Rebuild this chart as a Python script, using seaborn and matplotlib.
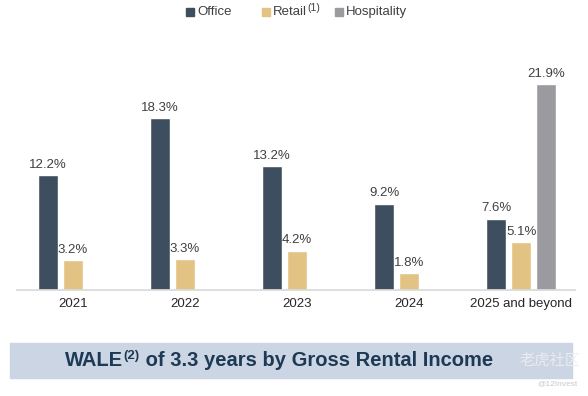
import matplotlib
matplotlib.use("Agg")
import matplotlib.pyplot as plt
import seaborn as sns
import pandas as pd
import numpy as np
from matplotlib.patches import Rectangle

categories = ["2021", "2022", "2023", "2024", "2025 and beyond"]
office = [12.2, 18.3, 13.2, 9.2, 7.6]
retail = [3.2, 3.3, 4.2, 1.8, 5.1]
hospitality = [np.nan, np.nan, np.nan, np.nan, 21.9]
series_names = ["Office", "Retail", "Hospitality"]
legend_sup = ["", "(1)", ""]
colors = ["#3d4f5e", "#e2c383", "#9b9a9f"]

rows = []
for s, vals in zip(series_names, [office, retail, hospitality]):
    for c, v in zip(categories, vals):
        rows.append({"cat": c, "series": s, "value": v})
df = pd.DataFrame(rows)

sns.set_theme(style="white")
plt.rcParams["font.family"] = ["Liberation Sans", "DejaVu Sans"]

W, H = 588, 396
fig = plt.figure(figsize=(W/100, H/100), dpi=100)
ax = fig.add_axes([17/W, (H-290)/H, (575-17)/W, 250/H])
sns.barplot(data=df, x="cat", y="value", hue="series", order=categories,
            hue_order=series_names, palette=colors, width=0.67, gap=0.2,
            saturation=1, ax=ax, legend=False)
ax.set_xlim(-0.5, 4.48)
ax.set_ylim(0, 26.6)
for sp in ["top", "right", "left"]:
    ax.spines[sp].set_visible(False)
ax.spines["bottom"].set_color("#d9d9d9")
ax.set_yticks([])
ax.set_xlabel("")
ax.set_ylabel("")
ax.tick_params(axis="x", length=0, labelsize=9.5, colors="#262626", pad=6)

for cont in ax.containers:
    labels = ["" if np.isnan(v) else f"{v:.1f}%" for v in cont.datavalues]
    ax.bar_label(cont, labels=labels, padding=3, fontsize=9.5, color="#404040")

fig.canvas.draw()
renderer = fig.canvas.get_renderer()

# Manual legend
legend_x = [186, 262, 335]
ly = 12
for c, name, sup, lx in zip(colors, series_names, legend_sup, legend_x):
    fig.patches.append(Rectangle((lx/W, (H-ly-4)/H), 8/W, 8/H,
                                 transform=fig.transFigure, color=c))
    t = fig.text((lx+11)/W, (H-ly)/H, name, ha="left", va="center", fontsize=9.5,
                 color="#404040")
    if sup:
        b = t.get_window_extent(renderer)
        fig.text(b.x1/W + 0.5/W, (H-ly+4)/H, sup, ha="left", va="center",
                 fontsize=7.5, color="#404040")

# Banner
fig.patches.append(Rectangle((10/W, (H-378)/H), 562/W, 35/H,
                             transform=fig.transFigure, color="#ccd5e3", zorder=0))
ty = (H-361)/H
navy = "#1d3a55"
x0 = 65/W
t1 = fig.text(x0, ty, "WALE", ha="left", va="center", fontsize=14.5, fontweight="bold", color=navy)
bb = t1.get_window_extent(renderer)
t2 = fig.text(bb.x1/W + 0.5/W, ty + 5/H, "(2)", ha="left", va="center", fontsize=9.5,
              fontweight="bold", color=navy)
bb2 = t2.get_window_extent(renderer)
fig.text(bb2.x1/W, ty, " of 3.3 years by Gross Rental Income", ha="left", va="center",
         fontsize=14.5, fontweight="bold", color=navy)
fig.text(580/W, (H-360)/H, "老虎社区", ha="right", va="center", fontsize=11,
         color="#eceef3", family=["Noto Sans CJK SC", "DejaVu Sans"], alpha=0.9)
fig.text(578/W, (H-384)/H, "@12Invest", ha="right", va="center", fontsize=6,
         color="#c8c8c8")

fig.savefig("out.png", dpi=100)
